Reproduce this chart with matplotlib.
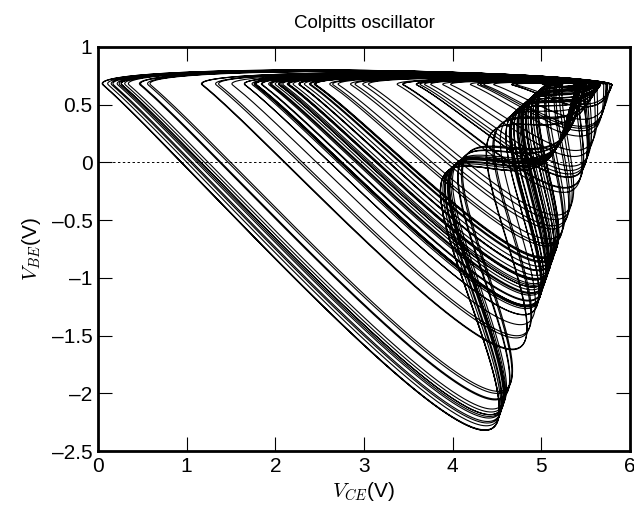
import matplotlib
matplotlib.use("Agg")
import matplotlib.pyplot as plt

# Colpitts oscillator circuit parameters (piecewise-linear BJT model)
V_CC = 5.0        # supply (V)
V_EE = -5.0       # emitter supply (V)
R_L = 35.0        # load resistance (ohm)
R_EE = 370.0      # emitter resistance (ohm)
L_IND = 98.5e-6   # inductance (H)
C1 = 54e-9        # collector-emitter capacitance (F)
C2 = 54e-9        # base-emitter capacitance (F)
V_TH = 0.67       # BJT threshold (V)
R_ON = 100.0      # BJT on-resistance (ohm)
BETA_F = 256.0    # forward current gain

# integration settings
DT = 4e-9
T_SKIP = 0.2e-3
T_KEEP = 1.1e-3
STATE0 = (5.0, 0.5, 0.01)   # V_CE, V_BE, I_L

X_LIM = [0, 6]
Y_LIM = [-2.5, 1.0]
X_TICKS = [0, 1, 2, 3, 4, 5, 6]
Y_TICKS = [-2.5, -2, -1.5, -1, -0.5, 0, 0.5, 1]
TITLE = "Colpitts oscillator"
X_LABEL = r"$V_{CE}$(V)"
Y_LABEL = r"$V_{BE}$(V)"


def deriv(vce, vbe, il):
    ib = (vbe - V_TH) / R_ON if vbe > V_TH else 0.0
    ic = BETA_F * ib
    return ((il - ic) / C1,
            (-(V_EE + vbe) / R_EE - il - ib) / C2,
            (V_CC - vce + vbe - R_L * il) / L_IND)


def simulate():
    vce, vbe, il = STATE0
    n_skip = int(T_SKIP / DT)
    n_keep = int(T_KEEP / DT)
    xs, ys = [], []
    h = DT
    for k in range(n_skip + n_keep):
        a1, b1, c1 = deriv(vce, vbe, il)
        a2, b2, c2 = deriv(vce + 0.5 * h * a1, vbe + 0.5 * h * b1, il + 0.5 * h * c1)
        a3, b3, c3 = deriv(vce + 0.5 * h * a2, vbe + 0.5 * h * b2, il + 0.5 * h * c2)
        a4, b4, c4 = deriv(vce + h * a3, vbe + h * b3, il + h * c3)
        vce += h / 6.0 * (a1 + 2 * a2 + 2 * a3 + a4)
        vbe += h / 6.0 * (b1 + 2 * b2 + 2 * b3 + b4)
        il += h / 6.0 * (c1 + 2 * c2 + 2 * c3 + c4)
        if k >= n_skip and (k % 2 == 0):
            xs.append(vce)
            ys.append(vbe)
    return xs, ys


v_ce, v_be = simulate()

plt.rcParams["font.family"] = ["Liberation Sans", "DejaVu Sans"]
plt.rcParams["mathtext.fontset"] = "cm"

fig = plt.figure(figsize=(6.34, 5.09), dpi=100)
ax = fig.add_axes([0.1546, 0.1139, 0.8391, 0.7938])

ax.plot(v_ce, v_be, color="black", lw=0.8)
ax.axhline(0, color="black", lw=0.7, ls=(0, (2.5, 2.5)))

ax.set_xlim(X_LIM)
ax.set_ylim(Y_LIM)
ax.set_xticks(X_TICKS)
ax.set_yticks(Y_TICKS)
ax.set_xticklabels([f"{t:g}".replace("-", "\u2013") for t in X_TICKS])
ax.set_yticklabels([f"{t:g}".replace("-", "\u2013") for t in Y_TICKS])
ax.tick_params(direction="in", length=10, width=0.8, labelsize=15,
               top=True, right=True, pad=4)
for sp in ax.spines.values():
    sp.set_linewidth(2.0)

ax.set_title(TITLE, fontsize=13.5, pad=14)
ax.set_xlabel(X_LABEL, fontsize=15, labelpad=3)
ax.set_ylabel(Y_LABEL, fontsize=15, labelpad=6)

fig.savefig("out.png", dpi=100)
